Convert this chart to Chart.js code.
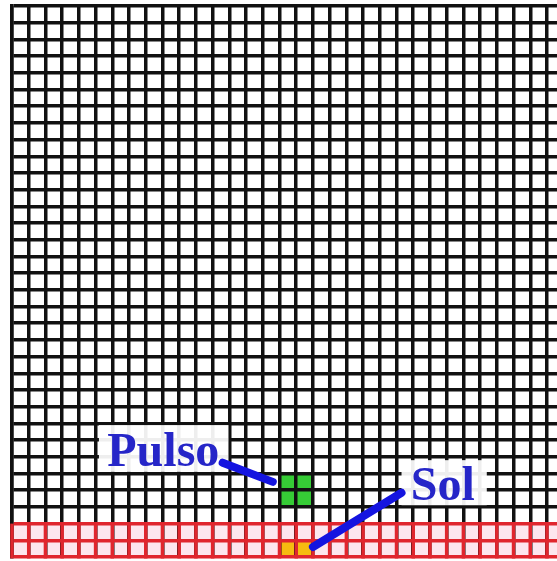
<!DOCTYPE html>
<html>
<head>
<meta charset="utf-8">
<script src="https://cdn.jsdelivr.net/npm/chart.js@4.4.1/dist/chart.umd.min.js"></script>
<style>
  html, body { margin: 0; padding: 0; background: #fff; overflow: hidden; }
</style>
</head>
<body>
<canvas id="grid" width="557" height="561"></canvas>
<script>
// grid extent in cells (last column is cut by the picture edge)
var columnCount = 32.6;
var rowCount = 33;
// bottom rows drawn in red
var solRows = [0, 1];
// [column, row] counted from bottom-left
var pulseCells = [[16, 3], [17, 3], [16, 4], [17, 4]];
var solCells = [[16, 0], [17, 0]];
var labelTexts = ["Pulso", "Sol"];

var BLACK = "#111";
var RED = "#e0262e";

function fillCell(ctx, xs, ys, c, r, color) {
    var x0 = xs.getPixelForValue(c), x1 = xs.getPixelForValue(c + 1);
    var y0 = ys.getPixelForValue(r + 1), y1 = ys.getPixelForValue(r);
    ctx.fillStyle = color;
    ctx.fillRect(x0, y0, x1 - x0, y1 - y0);
}

var cellsPlugin = {
    id: "cells",
    beforeDraw: function(chart) {
        var ctx = chart.ctx, xs = chart.scales.x, ys = chart.scales.y;
        ctx.save();
        // pink band of the red rows
        var top = ys.getPixelForValue(Math.max.apply(null, solRows) + 1);
        var bot = ys.getPixelForValue(Math.min.apply(null, solRows));
        ctx.fillStyle = "#fde6ee";
        ctx.fillRect(xs.left, top, xs.right - xs.left, bot - top);
        pulseCells.forEach(function(p) { fillCell(ctx, xs, ys, p[0], p[1], "#36cc36"); });
        solCells.forEach(function(p) { fillCell(ctx, xs, ys, p[0], p[1], "#f6bb10"); });
        ctx.restore();
    },
    afterDatasetsDraw: function(chart) {
        // red vertical lines inside the red rows
        var ctx = chart.ctx, xs = chart.scales.x, ys = chart.scales.y;
        var top = ys.getPixelForValue(Math.max.apply(null, solRows) + 1);
        var bot = ys.getPixelForValue(Math.min.apply(null, solRows));
        ctx.save();
        ctx.strokeStyle = RED;
        ctx.lineWidth = 3.5;
        for (var c = 0; c <= Math.floor(columnCount); c++) {
            var x = xs.getPixelForValue(c);
            ctx.beginPath();
            ctx.moveTo(x, top);
            ctx.lineTo(x, bot + 1.5);
            ctx.stroke();
        }
        ctx.restore();
    }
};

// label boxes and pointer lines, in cell units
var notes = [
    { text: labelTexts[0], at: [5.7, 5.45], box: [5.2, 12.95, 5.1, 7.9], from: [12.6, 5.65], to: [15.6, 4.5] },
    { text: labelTexts[1], at: [23.85, 3.4], box: [23.3, 28.4, 3.1, 5.8], from: [23.3, 3.85], to: [18.0, 0.6] }
];

var notesPlugin = {
    id: "notes",
    afterDraw: function(chart) {
        var ctx = chart.ctx, xs = chart.scales.x, ys = chart.scales.y;
        ctx.save();
        notes.forEach(function(n) {
            var bx0 = xs.getPixelForValue(n.box[0]), bx1 = xs.getPixelForValue(n.box[1]);
            var by0 = ys.getPixelForValue(n.box[3]), by1 = ys.getPixelForValue(n.box[2]);
            ctx.fillStyle = "rgba(255,255,255,0.93)";
            ctx.fillRect(bx0, by0, bx1 - bx0, by1 - by0);
            ctx.strokeStyle = "#1414e0";
            ctx.lineWidth = 8;
            ctx.lineCap = "round";
            ctx.beginPath();
            ctx.moveTo(xs.getPixelForValue(n.from[0]), ys.getPixelForValue(n.from[1]));
            ctx.lineTo(xs.getPixelForValue(n.to[0]), ys.getPixelForValue(n.to[1]));
            ctx.stroke();
            ctx.fillStyle = "#2626c8";
            ctx.font = "bold 48px 'Liberation Serif', serif";
            ctx.textBaseline = "alphabetic";
            ctx.fillText(n.text, xs.getPixelForValue(n.at[0]), ys.getPixelForValue(n.at[1]));
        });
        ctx.restore();
    }
};

window.onload = function() {
    var ctx = document.getElementById("grid").getContext("2d");
    new Chart(ctx, {
        type: "scatter",
        data: { datasets: [{ data: [], pointRadius: 0 }] },
        plugins: [cellsPlugin, notesPlugin],
        options: {
            responsive: false,
            animation: false,
            devicePixelRatio: 1,
            layout: { padding: { left: 12, top: 6, right: 0, bottom: 4 } },
            plugins: { legend: { display: false }, tooltip: { enabled: false } },
            scales: {
                x: {
                    type: "linear",
                    min: 0,
                    max: columnCount,
                    ticks: { display: false, stepSize: 1, includeBounds: false },
                    grid: { color: BLACK, lineWidth: 3.5, drawTicks: false },
                    border: { display: false }
                },
                y: {
                    type: "linear",
                    min: 0,
                    max: rowCount,
                    ticks: { display: false, stepSize: 1 },
                    grid: {
                        drawTicks: false,
                        lineWidth: 3.5,
                        color: function(c) {
                            return c.tick && c.tick.value <= Math.max.apply(null, solRows) + 1 ? RED : BLACK;
                        }
                    },
                    border: { color: BLACK, width: 3.5 }
                }
            }
        }
    });
};
</script>
</body>
</html>
